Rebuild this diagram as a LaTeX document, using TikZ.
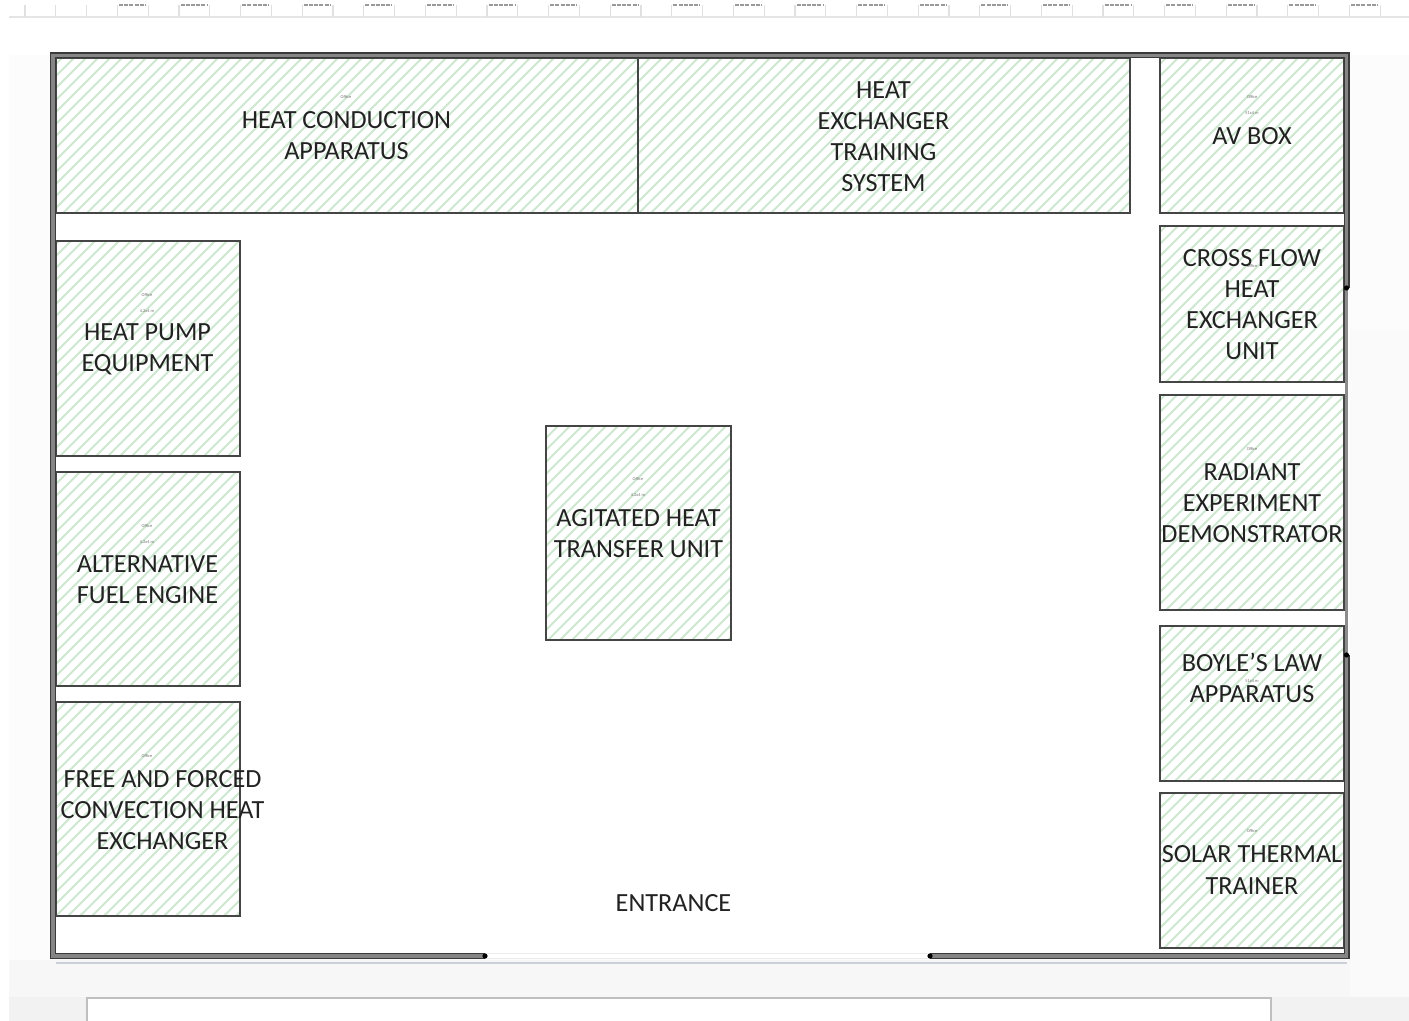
\documentclass[tikz,border=0pt]{standalone}
\usepackage{fontspec}
\setmainfont{Carlito}
\usetikzlibrary{fit}
\definecolor{hatchc}{HTML}{CDE8CF}
\definecolor{wallc}{HTML}{858585}
\definecolor{walle}{HTML}{3A3A3A}
\definecolor{boxe}{HTML}{454545}
\definecolor{textc}{HTML}{222222}
\definecolor{shadowc}{HTML}{CBCFD6}
\tikzset{
  x=0.5pt,y=-0.5pt,
  label text/.style={font=\fontsize{13.1}{15.6}\selectfont,text=textc,align=center,inner sep=0pt},
  tiny text/.style={font=\fontsize{2.2}{2.6}\selectfont,text=black!55,inner sep=0pt},
  wall/.style={line width=3pt,draw=walle},
  wallin/.style={line width=1.8pt,draw=wallc},
  wallend/.style={fill=black,inner sep=0pt,minimum size=2.6pt,circle},
}
% name, x0, y0, x1, y1
\newcommand{\hatchbox}[5]{%
  \begin{scope}
    \clip (#2,#3) rectangle (#4,#5);
    \foreach \k in {-1000,-988,...,1500}
      \draw[hatchc,line width=0.9pt] (\k,1000) -- (\k+1000,0);
  \end{scope}
  \coordinate (#1a) at (#2,#3);
  \coordinate (#1b) at (#4,#5);
  \node[fit=(#1a)(#1b),inner sep=0pt,draw=boxe,line width=0.7pt] (#1) {};
}
\begin{document}
\begin{tikzpicture}
\useasboundingbox (0,0) rectangle (1409,1021);
% window background
\fill[white] (0,0) rectangle (1409,1021);
\fill[black!1] (9,55) rectangle (1409,997);
\fill[black!3] (9,960) rectangle (1409,997);
\fill[black!2] (1350,330) rectangle (1409,997);
\fill[black!5] (9,997) rectangle (1409,1021);
\fill[white] (87,998) rectangle (1271,1021);
\draw[black!25,line width=0.7pt] (87,1021) -- (87,998) -- (1271,998) -- (1271,1021);
% ruler
\draw[black!10,line width=0.7pt] (9,17) -- (1409,17);
\foreach \k in {0,...,44}{
  \draw[black!12,line width=0.6pt] ({25+30.8*\k},5) -- ({25+30.8*\k},17);
}
\foreach \k in {0,...,21}{
  \draw[black!40,line width=0.7pt,dash pattern=on 2pt off 0.6pt] ({119+61.6*\k},5) -- ({146+61.6*\k},5);
}
% floor
\fill[white] (51,54) rectangle (1349,959);
\draw[shadowc,line width=0.8pt] (56,963) -- (1347,963);
\draw[black!8,line width=0.5pt] (485,953.5) -- (930,953.5);
\draw[black!8,line width=0.5pt] (485,958.5) -- (930,958.5);
% hatched boxes
\hatchbox{hca}{56}{58}{638}{213}
\hatchbox{hex}{638}{58}{1130}{213}
\hatchbox{av}{1160}{58}{1344}{213}
\hatchbox{cross}{1160}{226}{1344}{382}
\hatchbox{rad}{1160}{395}{1344}{610}
\hatchbox{boyle}{1160}{626}{1344}{781}
\hatchbox{solar}{1160}{793}{1344}{948}
\hatchbox{pump}{56}{241}{240}{456}
\hatchbox{alt}{56}{472}{240}{686}
\hatchbox{free}{56}{702}{240}{916}
\hatchbox{agit}{546}{426}{731}{640}
% walls
\coordinate (w1) at (485,956);
\coordinate (w2) at (53,956);
\coordinate (w3) at (53,55.5);
\coordinate (w4) at (1346.5,55.5);
\coordinate (w5) at (1346.5,288);
\coordinate (w6) at (1346.5,655);
\coordinate (w7) at (1346.5,956);
\coordinate (w8) at (930,956);
\draw[black!45,line width=1.5pt] (w5) -- (w6);
\draw[wall,line join=miter] (w1) -- (w2) -- (w3) -- (w4) -- (w5);
\draw[wall,line join=miter] (w6) -- (w7) -- (w8);
\draw[wallin,line join=miter] (w1) -- (w2) -- (w3) -- (w4) -- (w5);
\draw[wallin,line join=miter] (w6) -- (w7) -- (w8);
\node[wallend] at (w1) {};
\node[wallend] at (w5) {};
\node[wallend] at (w6) {};
\node[wallend] at (w8) {};
% dimension scraps
\foreach \nm/\px/\py/\tx in {
  t1/346/97/Office, t2/1252/97/Office, t3/1252/113/51x4 m,
  t4/147/295/Office, t5/147/311/4.2x4 m, t6/147/526/Office, t7/147/542/4.2x4 m,
  t8/147/756/Office, t9/638/479/Office, t10/638/495/4.2x4 m, t11/1252/449/Office,
  t12/1252/831/Office, t13/1252/266/Office, t14/1252/681/51x4 m}
  \node[tiny text] (\nm) at (\px,\py) {\tx};
% labels
\node[label text] (lhca) at (346.5,135.5) {HEAT CONDUCTION\\APPARATUS};
\node[label text] (lhex) at (883.5,136.5) {HEAT\\EXCHANGER\\TRAINING\\SYSTEM};
\node[label text] (lav) at (1252,136) {AV BOX};
\node[label text] (lcross) at (1252,304.5) {CROSS FLOW\\HEAT\\EXCHANGER\\UNIT};
\node[label text] (lrad) at (1252,503) {RADIANT\\EXPERIMENT\\DEMONSTRATOR};
\node[label text] (lboyle) at (1252,678) {BOYLE’S LAW\\APPARATUS};
\node[label text] (lsolar) at (1252,870) {SOLAR THERMAL\\TRAINER};
\node[label text] (lpump) at (147.5,349.5) {HEAT PUMP\\EQUIPMENT};
\node[label text] (lalt) at (147.5,579.5) {ALTERNATIVE\\FUEL ENGINE};
\node[label text] (lfree) at (162.5,810) {FREE AND FORCED\\CONVECTION HEAT\\EXCHANGER};
\node[label text] (lagit) at (638.5,533.5) {AGITATED HEAT\\TRANSFER UNIT};
\node[label text] (lent) at (673.5,903.5) {ENTRANCE};
\end{tikzpicture}
\end{document}
